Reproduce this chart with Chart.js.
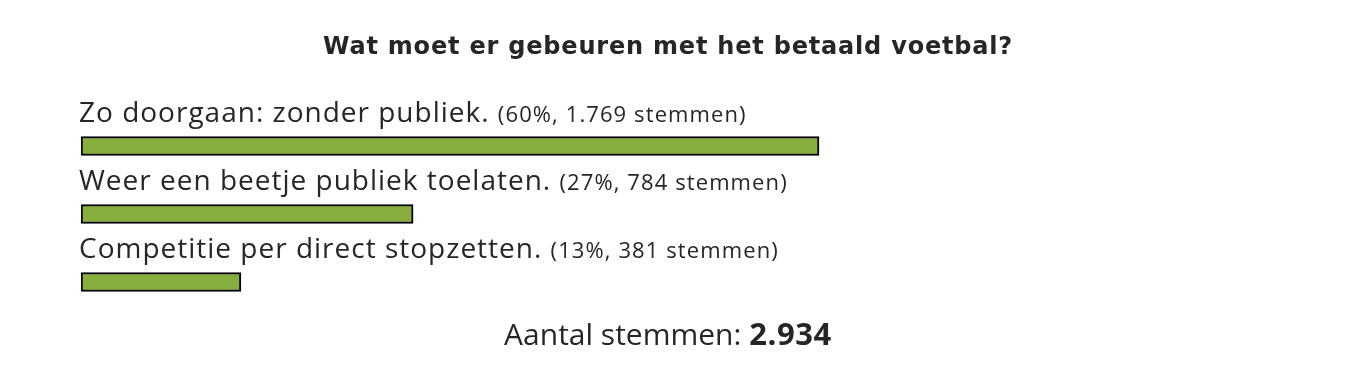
<!DOCTYPE html>
<html>
<head>
<meta charset="utf-8">
<script src="https://cdn.jsdelivr.net/npm/chart.js@4/dist/chart.umd.min.js"></script>
<style>
  html, body { margin: 0; padding: 0; background: #fff; }
  #wrap { width: 1360px; height: 374px; }
</style>
</head>
<body>
<div id="wrap"><canvas id="poll" width="1360" height="374"></canvas></div>
<script>
// antwoorden van de peiling
const categories = ['Zo doorgaan: zonder publiek.', 'Weer een beetje publiek toelaten.', 'Competitie per direct stopzetten.'];
const percentages = [60, 27, 13];
const votes = [1769, 784, 381];
const totalVotes = 2934;
const pollTitle = 'Wat moet er gebeuren met het betaald voetbal?';

const FONT = '"Open Sans", Lato, sans-serif';
const TITLE_FONT = '"DejaVu Sans", "Open Sans", sans-serif';
const TEXT_COLOR = '#262626';

// 1769 -> "1.769"
function fmt(n) {
    return String(n).replace(/\B(?=(\d{3})+(?!\d))/g, '.');
}

function setFont(ctx, font, spacing) {
    ctx.font = font;
    ctx.letterSpacing = spacing + 'px';
}

const pollText = {
    id: 'pollText',
    afterDatasetsDraw: (chart) => {
        const ctx = chart.ctx;
        const meta = chart.getDatasetMeta(0);
        const area = chart.chartArea;
        const cx = 668;
        ctx.save();
        ctx.fillStyle = TEXT_COLOR;
        ctx.textBaseline = 'alphabetic';
        ctx.textAlign = 'left';

        // titel
        setFont(ctx, 'bold 24px ' + TITLE_FONT, 0.8);
        const tw = ctx.measureText(pollTitle).width;
        ctx.fillText(pollTitle, cx - tw / 2, 54);

        // labels boven de balken
        meta.data.forEach((bar, i) => {
            const top = bar.y - bar.height / 2;
            const y = top - 15;
            setFont(ctx, '28px ' + FONT, 1.0);
            ctx.fillText(categories[i], area.left - 2, y);
            const w = ctx.measureText(categories[i] + ' ').width;
            setFont(ctx, '22px ' + FONT, 1.1);
            ctx.fillText('(' + percentages[i] + '%, ' + fmt(votes[i]) + ' stemmen)', area.left - 2 + w, y);
        });

        // totaal onderaan
        const part1 = 'Aantal stemmen: ';
        const part2 = fmt(totalVotes);
        setFont(ctx, '30px ' + FONT, 0);
        const w1 = ctx.measureText(part1).width;
        setFont(ctx, 'bold 31px ' + FONT, 0.6);
        const w2 = ctx.measureText(part2).width;
        const x = cx - (w1 + w2) / 2;
        setFont(ctx, '30px ' + FONT, 0);
        ctx.fillText(part1, x, 345);
        setFont(ctx, 'bold 31px ' + FONT, 0.6);
        ctx.fillText(part2, x + w1, 345);
        ctx.restore();
    }
};

new Chart(document.getElementById('poll').getContext('2d'), {
    type: 'bar',
    data: {
        labels: categories,
        datasets: [{
            data: percentages,
            backgroundColor: '#86ad3e',
            borderColor: '#000000',
            borderWidth: 2,
            borderSkipped: false,
            barThickness: 19
        }]
    },
    options: {
        indexAxis: 'y',
        responsive: false,
        animation: false,
        layout: {
            padding: { left: 81, right: 49, top: 112, bottom: 58 }
        },
        scales: {
            x: { display: false, min: 0, max: 100 },
            y: { display: false }
        },
        plugins: {
            legend: { display: false },
            title: { display: false },
            tooltip: { enabled: false }
        }
    },
    plugins: [pollText]
});
</script>
</body>
</html>
